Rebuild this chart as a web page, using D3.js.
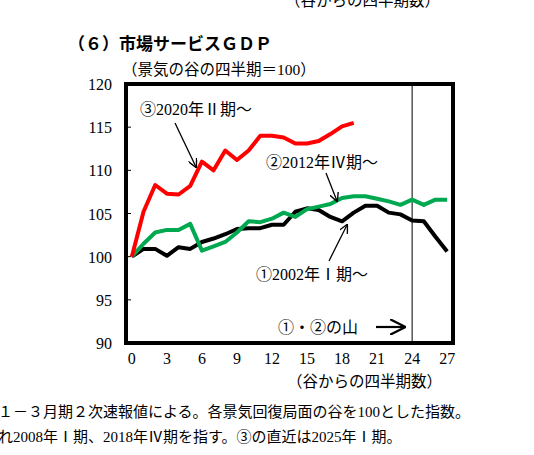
<!DOCTYPE html>
<html><head><meta charset="utf-8">
<script src="https://cdn.jsdelivr.net/npm/d3@7"></script>
<style>body{margin:0;background:#fff}text{font-family:"Liberation Serif","Noto Sans CJK JP",serif;fill:#000}</style>
</head><body><svg></svg>
<script>
var w = 534, h = 455;
var red = [100,105.2,108.3,107.3,107.2,108.2,111,110,112.3,111.2,112.3,114,114,113.8,113.1,113.1,113.4,114.2,115.1,115.5];
var green = [100,101.5,102.8,103.1,103.1,103.8,100.7,101.2,101.7,102.8,104.1,104,104.4,105.1,104.6,105.5,105.8,106.1,106.8,107,107,106.7,106.4,106,106.6,106,106.6,106.6];
var black = [100,100.9,100.9,100.1,101.1,100.9,101.7,102.1,102.6,103.2,103.3,103.3,103.7,103.7,105.2,105.6,105.4,104.6,104.1,105.1,105.9,105.9,105.1,104.9,104.2,104.1,102.3,100.6];
var xTicks = [0,3,6,9,12,15,18,21,24,27];
var yTicks = [90,95,100,105,110,115,120];

var svg = d3.select("svg").attr("width", w).attr("height", h);
var x = d3.scaleLinear().domain([-0.5, 27.5]).range([126, 453]);
var y = d3.scaleLinear().domain([90, 120]).range([343, 84]);

svg.append("text").attr("x", 68).attr("y", 50).attr("font-size", 17).attr("font-weight", "bold")
  .attr("font-family", "Noto Sans CJK JP").text("（６）市場サービスＧＤＰ");
svg.append("text").attr("x", 122).attr("y", 75).attr("font-size", 15.5).text("（景気の谷の四半期＝100）");
svg.append("text").attr("x", 285).attr("y", 6).attr("font-size", 15.5).text("（谷からの四半期数）");

yTicks.forEach(function (t) {
  svg.append("text").attr("x", 112).attr("y", y(t) + 6).attr("text-anchor", "end").attr("font-size", 16).text(t);
  svg.append("line").attr("x1", 126).attr("x2", 131).attr("y1", y(t)).attr("y2", y(t)).attr("stroke", "#000");
});
xTicks.forEach(function (t) {
  svg.append("text").attr("x", x(t)).attr("y", 364).attr("text-anchor", "middle").attr("font-size", 16).text(t);
});
svg.append("text").attr("x", 287).attr("y", 387).attr("font-size", 15.5).text("（谷からの四半期数）");

svg.append("line").attr("x1", x(24)).attr("x2", x(24)).attr("y1", 84).attr("y2", 343).attr("stroke", "#000");

var line = d3.line().x(function (d, i) { return x(i); }).y(function (d) { return y(d); });
[[black, "#000"], [green, "#00a850"], [red, "#ff0000"]].forEach(function (s) {
  svg.append("path").attr("d", line(s[0])).attr("fill", "none").attr("stroke", s[1])
    .attr("stroke-width", 4).attr("stroke-linejoin", "round");
});

svg.append("rect").attr("x", 126).attr("y", 84).attr("width", 327).attr("height", 259)
  .attr("fill", "none").attr("stroke", "#000").attr("stroke-width", 4);

svg.append("defs").append("marker").attr("id", "ah").attr("viewBox", "0 0 10 10").attr("refX", 9).attr("refY", 5)
  .attr("markerWidth", 7).attr("markerHeight", 7).attr("orient", "auto")
  .append("path").attr("d", "M0,0L10,5L0,10").attr("fill", "none").attr("stroke", "#000").attr("stroke-width", 1.5);
function arrow(x1, y1, x2, y2, sw) {
  svg.append("line").attr("x1", x1).attr("y1", y1).attr("x2", x2).attr("y2", y2)
    .attr("stroke", "#000").attr("stroke-width", sw || 1.3).attr("marker-end", "url(#ah)");
}
svg.append("text").attr("x", 140).attr("y", 115).attr("font-size", 16).text("③2020年Ⅱ期～");
arrow(175, 123, 196, 167);
svg.append("text").attr("x", 266).attr("y", 168).attr("font-size", 16).text("②2012年Ⅳ期～");
arrow(326, 173, 337, 201);
svg.append("text").attr("x", 256).attr("y", 280).attr("font-size", 16).text("①2002年Ⅰ期～");
arrow(329, 261, 347, 225);
svg.append("text").attr("x", 278).attr("y", 333).attr("font-size", 16).text("①・②の山");
arrow(376, 327, 404, 327, 2.2);

svg.append("text").attr("x", -2).attr("y", 417).attr("font-size", 15).text("１－３月期２次速報値による。各景気回復局面の谷を100とした指数。");
svg.append("text").attr("x", -2).attr("y", 442).attr("font-size", 15).text("れ2008年Ⅰ期、2018年Ⅳ期を指す。③の直近は2025年Ⅰ期。");
</script></body></html>
